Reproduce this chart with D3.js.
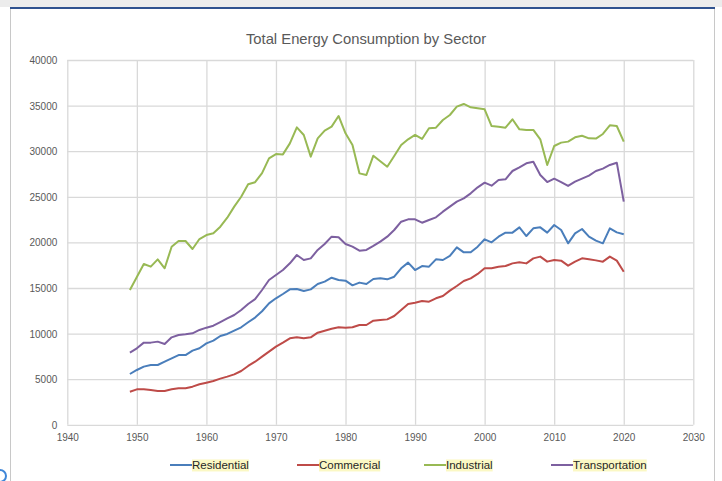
<!DOCTYPE html>
<html>
<head>
<meta charset="utf-8">
<script src="https://cdn.jsdelivr.net/npm/d3@7"></script>
<style>
  body { margin: 0; background: #fff; }
  svg { display: block; font-family: "Liberation Sans", Arial, sans-serif; }
  .axis text { fill: #595959; font-size: 10px; }
  .axis line { stroke: #d9d9d9; stroke-width: 1.3; }
  .axis path { display: none; }
</style>
</head>
<body>
<svg width="722" height="481"></svg>
<script>
  // Total energy consumption by end-use sector, 1949-2020 (trillion Btu)
  var years = d3.range(1949, 2021);
  var seriesNames = ["Residential", "Commercial", "Industrial", "Transportation"];
  var seriesColors = ["#4a7ebb", "#be4b48", "#98b954", "#7d60a0"];

  var residential = [
    5570, 6010, 6380, 6560, 6560, 6920, 7290, 7650, 7650, 8130,
    8390, 8930, 9230, 9740, 9960, 10320, 10690, 11240, 11760, 12450,
    13320, 13870, 14340, 14850, 14890, 14670, 14850, 15440, 15700, 16130,
    15880, 15800, 15290, 15590, 15440, 15990, 16060, 15950, 16240, 17160,
    17780, 16970, 17410, 17340, 18140, 18070, 18510, 19460, 18910, 18910,
    19530, 20340, 20010, 20630, 21070, 21070, 21650, 20700, 21540, 21650,
    21070, 21910, 21360, 19900, 20990, 21470, 20630, 20190, 19900, 21540,
    21100, 20890];
  var commercial = [
    3630, 3890, 3890, 3820, 3710, 3710, 3890, 4000, 4000, 4180,
    4440, 4620, 4800, 5060, 5280, 5530, 5900, 6450, 6920, 7470,
    8020, 8570, 9010, 9480, 9590, 9480, 9590, 10100, 10320, 10540,
    10690, 10650, 10690, 10940, 10940, 11420, 11490, 11560, 11930, 12590,
    13250, 13390, 13570, 13500, 13870, 14120, 14710, 15220, 15770, 16060,
    16540, 17160, 17160, 17340, 17410, 17700, 17820, 17700, 18250, 18440,
    17890, 18070, 18000, 17450, 17890, 18250, 18140, 18030, 17890, 18440,
    18000, 16790];
  var industrial = [
    14780, 16200, 17630, 17340, 18140, 17160, 19530, 20150, 20150, 19280,
    20370, 20810, 21000, 21720, 22710, 23920, 25010, 26370, 26600, 27600,
    29220, 29690, 29650, 30860, 32620, 31780, 29400, 31410, 32250, 32690,
    33860, 31960, 30680, 27570, 27390, 29510, 28900, 28300, 29470, 30680,
    31300, 31780, 31340, 32510, 32580, 33420, 33970, 34880, 35180, 34810,
    34700, 34590, 32760, 32690, 32580, 33500, 32400, 32330, 32330, 31300,
    28490, 30570, 30940, 31050, 31520, 31700, 31410, 31380, 31890, 32840,
    32760, 31050];
  var transportation = [
    7910, 8390, 9010, 9010, 9120, 8860, 9590, 9850, 9920, 10030,
    10400, 10650, 10870, 11270, 11670, 12040, 12590, 13250, 13780, 14780,
    15880, 16430, 16970, 17710, 18620, 18070, 18250, 19170, 19830, 20630,
    20560, 19830, 19530, 19090, 19170, 19610, 20080, 20630, 21360, 22270,
    22530, 22530, 22160, 22460, 22750, 23370, 23920, 24470, 24830, 25380,
    26040, 26550, 26220, 26840, 26920, 27830, 28230, 28670, 28850, 27390,
    26620, 26990, 26620, 26190, 26660, 26990, 27320, 27830, 28090, 28490,
    28740, 24470];

  var xTicks = [1940, 1950, 1960, 1970, 1980, 1990, 2000, 2010, 2020, 2030];
  var yTicks = [0, 5000, 10000, 15000, 20000, 25000, 30000, 35000, 40000];

  var allSeries = [residential, commercial, industrial, transportation];

  var svg = d3.select("svg"),
      width = +svg.attr("width"),
      height = +svg.attr("height");

  // window chrome around the chart
  svg.append("rect").attr("x", 0).attr("y", 0).attr("width", width).attr("height", 7).attr("fill", "#ececec");
  svg.append("rect")
      .attr("x", 10.5).attr("y", 8.5).attr("width", 704).attr("height", 480)
      .attr("fill", "#fff").attr("stroke", "#c8c8c8");
  svg.append("line")
      .attr("x1", 10).attr("x2", 715).attr("y1", 8).attr("y2", 8)
      .attr("stroke", "#2f528f").attr("stroke-width", 2);
  svg.append("path")
      .attr("d", d3.arc()({ innerRadius: 5, outerRadius: 7, startAngle: 0, endAngle: Math.PI }))
      .attr("transform", "translate(0,476)")
      .attr("fill", "#3f86d8");

  var plot = { left: 67.3, right: 693.3, top: 60, bottom: 424.8 };

  var x = d3.scaleLinear().domain([1940, 2030]).range([plot.left, plot.right]);
  var y = d3.scaleLinear().domain([0, 40000]).range([plot.bottom, plot.top]);

  svg.append("text")
      .attr("x", 366).attr("y", 44)
      .attr("text-anchor", "middle")
      .attr("fill", "#595959")
      .style("font-size", "14.8px")
      .text("Total Energy Consumption by Sector");

  svg.append("g")
      .attr("class", "axis")
      .attr("transform", "translate(" + plot.left + ",0)")
      .call(d3.axisLeft(y).tickValues(yTicks).tickFormat(d3.format("d"))
          .tickSize(-(plot.right - plot.left)).tickPadding(10))
      .selectAll("text").attr("dy", "0.35em");

  svg.append("g")
      .attr("class", "axis")
      .attr("transform", "translate(0," + plot.bottom + ")")
      .call(d3.axisBottom(x).tickValues(xTicks).tickFormat(d3.format("d"))
          .tickSize(-(plot.bottom - plot.top)).tickPadding(9));

  var line = d3.line()
      .x(function(d, i) { return x(years[i]); })
      .y(function(d) { return y(d); });

  svg.append("g")
      .selectAll("path")
      .data(allSeries)
      .enter()
        .append("path")
        .attr("fill", "none")
        .attr("stroke", function(d, i) { return seriesColors[i]; })
        .attr("stroke-width", 2)
        .attr("stroke-linejoin", "round")
        .attr("d", line);

  // legend
  var legendX = [170, 297, 424, 551];
  var legend = svg.append("g")
      .selectAll("g")
      .data(seriesNames)
      .enter()
        .append("g")
        .attr("transform", function(d, i) { return "translate(" + legendX[i] + ",465)"; });

  legend.append("line")
      .attr("x1", 0).attr("x2", 22)
      .attr("stroke", function(d, i) { return seriesColors[i]; })
      .attr("stroke-width", 2);

  legend.each(function(d) {
    var g = d3.select(this);
    var t = g.append("text")
        .attr("x", 22).attr("y", 1)
        .attr("dy", "0.3em")
        .attr("fill", "#262626")
        .style("font-size", "11.5px")
        .text(d);
    var bb = t.node().getBBox();
    g.insert("rect", "text")
        .attr("x", bb.x).attr("y", bb.y)
        .attr("width", bb.width).attr("height", bb.height)
        .attr("fill", "#fbf8c4");
  });
</script>
</body>
</html>
